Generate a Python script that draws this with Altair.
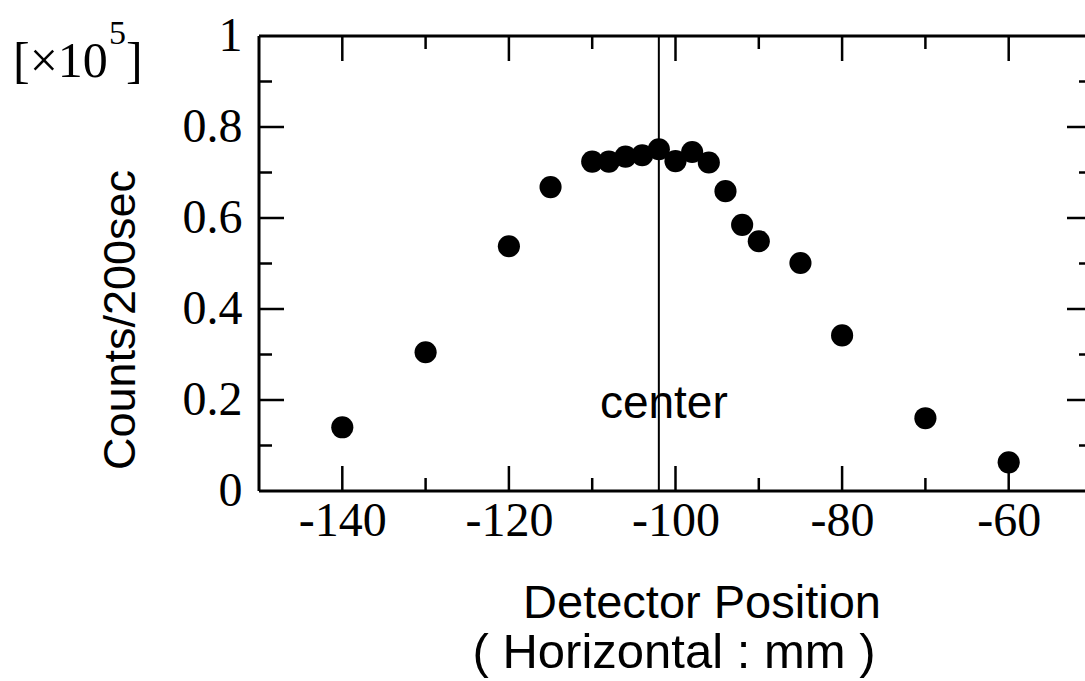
import altair as alt
import pandas as pd

# ---- data ----
position = [-140, -130, -120, -115, -110, -108, -106, -104, -102, -100,
            -98, -96, -94, -92, -90, -85, -80, -70, -60]
counts = [0.140, 0.305, 0.538, 0.668, 0.724, 0.724, 0.735, 0.738, 0.751, 0.725,
          0.745, 0.722, 0.659, 0.585, 0.549, 0.501, 0.342, 0.160, 0.063]
center_pos = [-102]
center_label = ["center"]
x_label_values = [-140, -120, -100, -80, -60]
y_label_values = [0, 0.2, 0.4, 0.6, 0.8, 1.0]
x_major = [-140, -120, -100, -80, -60]
x_minor = [-130, -110, -90, -70]
y_major = [0.2, 0.4, 0.6, 0.8]
y_minor = [0.1, 0.3, 0.5, 0.7, 0.9]
x_title_lines = ["Detector Position", "( Horizontal : mm )"]
y_title = ["Counts/200sec"]
scale_text = ["[×10", "5", "]"]

# ---- layout ----
W, H = 826, 455
PX_PER_UNIT = 8.33
X0 = -150
X1 = X0 + W / PX_PER_UNIT
XR = 100 * PX_PER_UNIT   # pixel of the (cropped) right frame at -50
MAJ, MIN = 25, 13
SERIF = "Liberation Serif"
SANS = "Liberation Sans"

xs = alt.Scale(domain=[X0, X1], nice=False, zero=False)
ys = alt.Scale(domain=[0, 1], nice=False, zero=False)

AX = alt.Axis(
    values=x_label_values, title=None, ticks=False, tickSize=0, domain=False,
    grid=False, labelFont=SERIF, labelFontSize=48, labelColor="black",
    labelPadding=6, labelFlush=False, labelOverlap=False,
    labelExpr="datum.value < 0 ? '-' + abs(datum.value) : '' + datum.value")
AY = alt.Axis(
    values=y_label_values, title=None, ticks=False, tickSize=0, domain=False,
    grid=False, labelFont=SERIF, labelFontSize=48, labelColor="black",
    labelPadding=17, labelFlush=False, labelOverlap=False,
    labelExpr="datum.value == 0 ? '0' : datum.value == 1 ? '1' : format(datum.value, '.1f')")


def X(field):
    return alt.X(field, type="quantitative", scale=xs, axis=AX)


def Y(field):
    return alt.Y(field, type="quantitative", scale=ys, axis=AY)


pts = pd.DataFrame({"x": position, "y": counts})

points = alt.Chart(pts).mark_circle(size=490, color="black", opacity=1).encode(
    x=X("x"), y=Y("y"))


def xticks(vals, length):
    d = pd.DataFrame({"x": vals})
    bottom = alt.Chart(d).mark_rule(color="black", strokeWidth=2.5).encode(
        x=X("x"), y=alt.value(H), y2=alt.value(H - length))
    top = alt.Chart(d).mark_rule(color="black", strokeWidth=2.5).encode(
        x=X("x"), y=alt.value(0), y2=alt.value(length))
    return [bottom, top]


def yticks(vals, length):
    d = pd.DataFrame({"y": vals})
    left = alt.Chart(d).mark_rule(color="black", strokeWidth=2.5).encode(
        y=Y("y"), x=alt.value(0), x2=alt.value(length))
    right = alt.Chart(d).mark_rule(color="black", strokeWidth=2.5).encode(
        y=Y("y"), x=alt.value(XR), x2=alt.value(XR - length))
    return [left, right]


frame_df = pd.DataFrame({"k": ["frame"]})
left_line = alt.Chart(frame_df).mark_rule(color="black", strokeWidth=3).encode(
    x=alt.value(0), y=alt.value(0), y2=alt.value(H))
top_line = alt.Chart(frame_df).mark_rule(color="black", strokeWidth=3).encode(
    x=alt.value(0), x2=alt.value(XR), y=alt.value(0))
bottom_line = alt.Chart(frame_df).mark_rule(color="black", strokeWidth=3).encode(
    x=alt.value(0), x2=alt.value(XR), y=alt.value(H))

center_df = pd.DataFrame({"x": center_pos, "t": center_label})
center_line = alt.Chart(center_df).mark_rule(color="black", strokeWidth=2).encode(
    x=X("x"), y=alt.value(0), y2=alt.value(H))
center_text = alt.Chart(center_df).mark_text(
    font=SANS, fontSize=46, color="black", align="center", baseline="alphabetic", dx=5
).encode(x=X("x"), y=alt.value(382), text="t:N")

xt1 = alt.Chart(pd.DataFrame({"t": [x_title_lines[0]]})).mark_text(
    font=SANS, fontSize=47, color="black", align="center", baseline="alphabetic"
).encode(x=alt.value(443), y=alt.value(582), text="t:N")
xt2 = alt.Chart(pd.DataFrame({"t": [x_title_lines[1]]})).mark_text(
    font=SANS, fontSize=49, color="black", align="center", baseline="alphabetic"
).encode(x=alt.value(415), y=alt.value(632), text="t:N")
yt = alt.Chart(pd.DataFrame({"t": y_title})).mark_text(
    font=SANS, fontSize=45, color="black", align="center", baseline="alphabetic", angle=270
).encode(x=alt.value(-124), y=alt.value(284), text="t:N")

sc1 = alt.Chart(pd.DataFrame({"t": [scale_text[0]]})).mark_text(
    font=SERIF, fontSize=50, color="black", align="left", baseline="alphabetic"
).encode(x=alt.value(-246), y=alt.value(41), text="t:N")
sc2 = alt.Chart(pd.DataFrame({"t": [scale_text[1]]})).mark_text(
    font=SERIF, fontSize=34, color="black", align="left", baseline="alphabetic"
).encode(x=alt.value(-150), y=alt.value(8), text="t:N")
sc3 = alt.Chart(pd.DataFrame({"t": [scale_text[2]]})).mark_text(
    font=SERIF, fontSize=50, color="black", align="left", baseline="alphabetic"
).encode(x=alt.value(-133), y=alt.value(41), text="t:N")

layers = [points, center_line, center_text, left_line, top_line, bottom_line]
layers += xticks(x_major, MAJ) + xticks(x_minor, MIN)
layers += yticks(y_major, MAJ) + yticks(y_minor, MIN)
layers += [xt1, xt2, yt, sc1, sc2, sc3]

chart = alt.layer(*layers).properties(
    width=W, height=H,
    padding={"left": 259, "top": 36, "right": 0, "bottom": 188},
    autosize=alt.AutoSizeParams(type="none"),
    background="white",
).configure_view(stroke=None)

chart.save("out.html", embed_options={"renderer": "svg", "actions": False})
